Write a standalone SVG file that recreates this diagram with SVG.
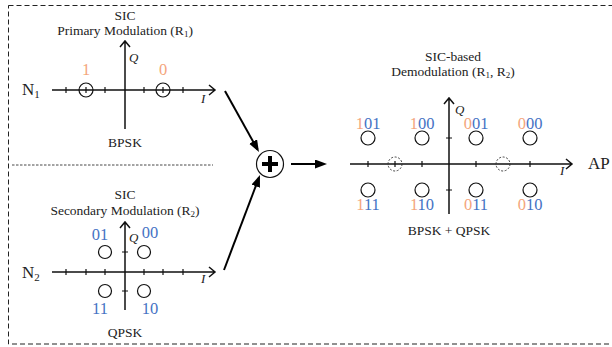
<svg xmlns="http://www.w3.org/2000/svg" width="612" height="347" viewBox="0 0 612 347" font-family="'Liberation Serif', 'Times New Roman', serif">
<style>
text{font-family:"Liberation Serif","Times New Roman",serif;fill:#222}
.t{font-size:13.5px}
.big{font-size:17px}
.lab{font-size:16.5px}
.it{font-size:13px;font-style:italic}
.ax{stroke:#111;stroke-width:1.5;fill:none}
.tk{stroke:#111;stroke-width:1.2;fill:none}
.pt{stroke:#111;stroke-width:1.2;fill:none}
.dpt{stroke:#333;stroke-width:0.9;fill:none;stroke-dasharray:2,1.6}
.o{fill:#F4A57C}
.b{fill:#4472C4}
.conn{stroke:#000;stroke-width:2;fill:none}
</style>
<defs>
<marker id="ah" markerUnits="userSpaceOnUse" markerWidth="13" markerHeight="10" refX="9" refY="4.5" orient="auto">
<path d="M0,0 L12,4.5 L0,9 z" fill="#000"/>
</marker>
</defs>
<rect x="8.5" y="5.5" width="615" height="338.5" fill="none" stroke="#222" stroke-width="1" stroke-dasharray="5,3"/>
<line x1="12" y1="165" x2="213" y2="165" stroke="#333" stroke-width="0.9" stroke-dasharray="2.5,1.5"/>

<g id="bpsk">
<text class="t" x="125" y="20" text-anchor="middle">SIC</text>
<text class="t" x="125" y="35" text-anchor="middle">Primary Modulation (R<tspan font-size="9" dy="2">1</tspan><tspan dy="-2">)</tspan></text>
<path class="ax" d="M125,129 V41 M120,47 L125,41 L130,47"/>
<path class="ax" d="M52,90 H215 M209,85 L215,90 L209,95"/>
<path class="tk" d="M66,87 V93 M86,87 V93 M105,87 V93 M144,87 V93 M163,87 V93 M183,87 V93"/>
<circle class="pt" cx="86" cy="90" r="7"/>
<circle class="pt" cx="163" cy="90" r="7"/>
<text class="lab o" x="86" y="75" text-anchor="middle">1</text>
<text class="lab o" x="163" y="75" text-anchor="middle">0</text>
<text class="it" x="129" y="62">Q</text>
<text class="it" x="201" y="103">I</text>
<text class="big" x="22" y="95">N<tspan font-size="11" dy="3">1</tspan></text>
<text class="t" x="125" y="147" text-anchor="middle">BPSK</text>
</g>

<g id="qpsk">
<text class="t" x="125" y="199" text-anchor="middle">SIC</text>
<text class="t" x="125" y="215" text-anchor="middle">Secondary Modulation (R<tspan font-size="9" dy="2">2</tspan><tspan dy="-2">)</tspan></text>
<path class="ax" d="M125,310 V222 M120,228 L125,222 L130,228"/>
<path class="ax" d="M52,272 H215 M209,267 L215,272 L209,277"/>
<path class="tk" d="M66,269 V275 M86,269 V275 M105,269 V275 M144,269 V275 M163,269 V275 M183,269 V275 M122,252 H128 M122,291 H128"/>
<circle class="pt" cx="105" cy="252" r="6.5"/>
<circle class="pt" cx="144" cy="252" r="6.5"/>
<circle class="pt" cx="105" cy="291" r="6.5"/>
<circle class="pt" cx="144" cy="291" r="6.5"/>
<text class="lab b" x="100" y="240" text-anchor="middle">01</text>
<text class="lab b" x="150" y="238" text-anchor="middle">00</text>
<text class="lab b" x="100" y="314" text-anchor="middle">11</text>
<text class="lab b" x="150" y="314" text-anchor="middle">10</text>
<text class="it" x="129" y="242">Q</text>
<text class="it" x="201" y="283">I</text>
<text class="big" x="22" y="278">N<tspan font-size="11" dy="3">2</tspan></text>
<text class="t" x="125" y="337" text-anchor="middle">QPSK</text>
</g>

<g id="sum">
<circle cx="270" cy="164" r="13.5" fill="#fff" stroke="#111" stroke-width="1.2"/>
<path d="M262,164 H278 M270,156 V172" stroke="#000" stroke-width="4"/>
</g>

<g id="demod">
<text class="t" x="453" y="61" text-anchor="middle">SIC-based</text>
<text class="t" x="453" y="76" text-anchor="middle">Demodulation (R<tspan font-size="9" dy="2">1</tspan><tspan dy="-2">, R</tspan><tspan font-size="9" dy="2">2</tspan><tspan dy="-2">)</tspan></text>
<path class="ax" d="M449,214 V98 M444,104 L449,98 L454,104"/>
<path class="ax" d="M350,164 H572 M566,159 L572,164 L566,169"/>
<path class="tk" d="M368,161 V167 M395,161 V167 M422,161 V167 M476,161 V167 M530,161 V167 M446,138 H452 M446,190 H452"/>
<circle class="dpt" cx="395" cy="164" r="7"/>
<circle class="dpt" cx="503" cy="164" r="7"/>
<circle class="pt" cx="368" cy="138" r="7"/>
<circle class="pt" cx="422" cy="138" r="7"/>
<circle class="pt" cx="476" cy="138" r="7"/>
<circle class="pt" cx="530" cy="138" r="7"/>
<circle class="pt" cx="368" cy="190" r="7"/>
<circle class="pt" cx="422" cy="190" r="7"/>
<circle class="pt" cx="476" cy="190" r="7"/>
<circle class="pt" cx="530" cy="190" r="7"/>
<text class="lab" x="368" y="129" text-anchor="middle"><tspan class="o">1</tspan><tspan class="b">01</tspan></text>
<text class="lab" x="422" y="129" text-anchor="middle"><tspan class="o">1</tspan><tspan class="b">00</tspan></text>
<text class="lab" x="476" y="129" text-anchor="middle"><tspan class="o">0</tspan><tspan class="b">01</tspan></text>
<text class="lab" x="530" y="129" text-anchor="middle"><tspan class="o">0</tspan><tspan class="b">00</tspan></text>
<text class="lab" x="368" y="210" text-anchor="middle"><tspan class="o">1</tspan><tspan class="b">11</tspan></text>
<text class="lab" x="422" y="210" text-anchor="middle"><tspan class="o">1</tspan><tspan class="b">10</tspan></text>
<text class="lab" x="476" y="210" text-anchor="middle"><tspan class="o">0</tspan><tspan class="b">11</tspan></text>
<text class="lab" x="530" y="210" text-anchor="middle"><tspan class="o">0</tspan><tspan class="b">10</tspan></text>
<text class="it" x="455" y="114">Q</text>
<text class="it" x="560" y="175">I</text>
<text class="t" x="449" y="235" text-anchor="middle">BPSK + QPSK</text>
</g>

<g id="ap">
<text class="big" x="588" y="169">AP</text>
</g>

<g id="connectors">
<line class="conn" x1="225" y1="91" x2="257.5" y2="149.4" marker-end="url(#ah)"/>
<line class="conn" x1="224" y1="270" x2="258.9" y2="177.8" marker-end="url(#ah)"/>
<line class="conn" x1="291" y1="164" x2="324" y2="164" marker-end="url(#ah)"/>
</g>
</svg>
